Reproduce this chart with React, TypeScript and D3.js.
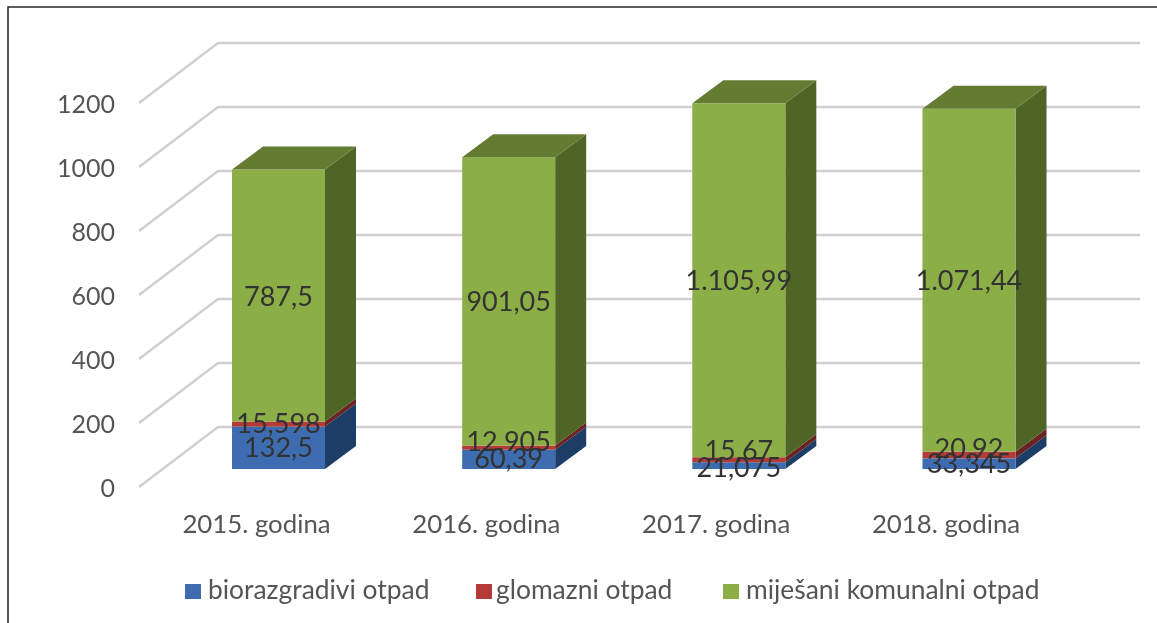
import React from "react";
import * as d3 from "d3";

const categories = ["2015. godina", "2016. godina", "2017. godina", "2018. godina"];
const seriesNames = ["biorazgradivi otpad", "glomazni otpad", "miješani komunalni otpad"];
const biorazgradivi = [132.5, 60.39, 21.075, 33.345];
const glomazni = [15.598, 12.905, 15.67, 20.92];
const mijesani = [787.5, 901.05, 1105.99, 1071.44];
const valueLabels = [
  ["132,5", "60,39", "21,075", "33,345"],
  ["15,598", "12,905", "15,67", "20,92"],
  ["787,5", "901,05", "1.105,99", "1.071,44"],
];
const ticks = [0, 200, 400, 600, 800, 1000, 1200];
const seriesValues = [biorazgradivi, glomazni, mijesani];

const faceFront = ["#3d6db0", "#b53a37", "#8bae46"];
const faceTop = ["#30568c", "#8e2d2b", "#647c32"];
const faceSide = ["#1f3d66", "#6b2220", "#506527"];

const W = 1157, H = 623;
const FONT = "Lato, Carlito, sans-serif";
const y = d3.scaleLinear().domain([0, 1200]).range([0, -384]);
const barX = d3.scalePoint<string>().domain(categories).range([278.5, 969]);
const labelX = d3.scalePoint<string>().domain(categories).range([256.5, 946]);
const BAR_W = 93, BAR_BASE = 469;
const DX = 31, DY = -23;
const WALL_LEFT = 218, WALL_RIGHT = 1140, WALL_BASE = 427;
const FRONT_LEFT = 139, FRONT_BASE = 487;
const SWATCH_X = [185, 476, 723];
const LEGEND_TEXT_X = [208, 496, 746];
// vertical baseline shift of the crowded labels, by series then category
const LABEL_SHIFT = [
  [9, 9, 11, 9],
  [9, 3, 0, 3],
  [10, 10, 10, 10],
];

const poly = (pts: [number, number][]) => pts.map((p) => p.join(",")).join(" ");

export default function App() {
  const stacked = categories.map((_, c) => {
    let sum = 0;
    return seriesValues.map((s) => {
      const from = sum;
      sum += s[c];
      return { from, to: sum };
    });
  });
  return (
    <svg width={W} height={H} style={{ position: "fixed", left: 0, top: 0, background: "#fff" }} fontFamily={FONT}>
      <defs>
        <filter id="soft" x="-5%" y="-5%" width="110%" height="110%">
          <feGaussianBlur stdDeviation="0.6" />
        </filter>
      </defs>
      <g filter="url(#soft)">
        <polyline points={poly([[8, H + 10], [8, 7], [W + 10, 7]])} fill="none" stroke="#2a2a2a" strokeWidth={1.6} />
        {ticks.map((t) => (
          <polyline
            key={t}
            points={poly([
              [FRONT_LEFT, FRONT_BASE + y(t)],
              [WALL_LEFT, WALL_BASE + y(t)],
              [WALL_RIGHT, WALL_BASE + y(t)],
            ])}
            fill="none"
            stroke="#d0d0d0"
            strokeWidth={2.4}
          />
        ))}
        {ticks.map((t) => (
          <text key={t} x={115} y={FRONT_BASE + y(t) + 9.5} textAnchor="end" fontSize={25} fill="#555">
            {t}
          </text>
        ))}
        {categories.map((c, i) => {
          const x0 = barX(c)! - BAR_W / 2;
          const x1 = x0 + BAR_W;
          return (
            <g key={c}>
              {stacked[i].map((d, s) => {
                const yb = BAR_BASE + y(d.from);
                const yt = BAR_BASE + y(d.to);
                return (
                  <g key={s}>
                    <polygon points={poly([[x1, yb], [x1 + DX, yb + DY], [x1 + DX, yt + DY], [x1, yt]])} fill={faceSide[s]} />
                    <rect x={x0} y={yt} width={BAR_W} height={yb - yt} fill={faceFront[s]} />
                    {s === 2 && (
                      <polygon points={poly([[x0, yt], [x0 + DX, yt + DY], [x1 + DX, yt + DY], [x1, yt]])} fill={faceTop[s]} />
                    )}
                  </g>
                );
              })}
            </g>
          );
        })}
        {categories.map((c, i) =>
          stacked[i].map((d, s) => (
            <text
              key={s}
              x={barX(c)!}
              y={BAR_BASE + y((d.from + d.to) / 2) + LABEL_SHIFT[s][i]}
              textAnchor="middle"
              fontSize={27}
              fill="#333"
            >
              {valueLabels[s][i]}
            </text>
          ))
        )}
        {categories.map((c) => (
          <text key={c} x={labelX(c)!} y={533} textAnchor="middle" fontSize={25.8} fill="#555">
            {c}
          </text>
        ))}
        {seriesNames.map((n, i) => (
          <g key={n}>
            <rect x={SWATCH_X[i]} y={584} width={16} height={15} fill={faceFront[i]} />
            <text x={LEGEND_TEXT_X[i]} y={598.5} fontSize={26.4} fill="#555">
              {n}
            </text>
          </g>
        ))}
      </g>
    </svg>
  );
}
